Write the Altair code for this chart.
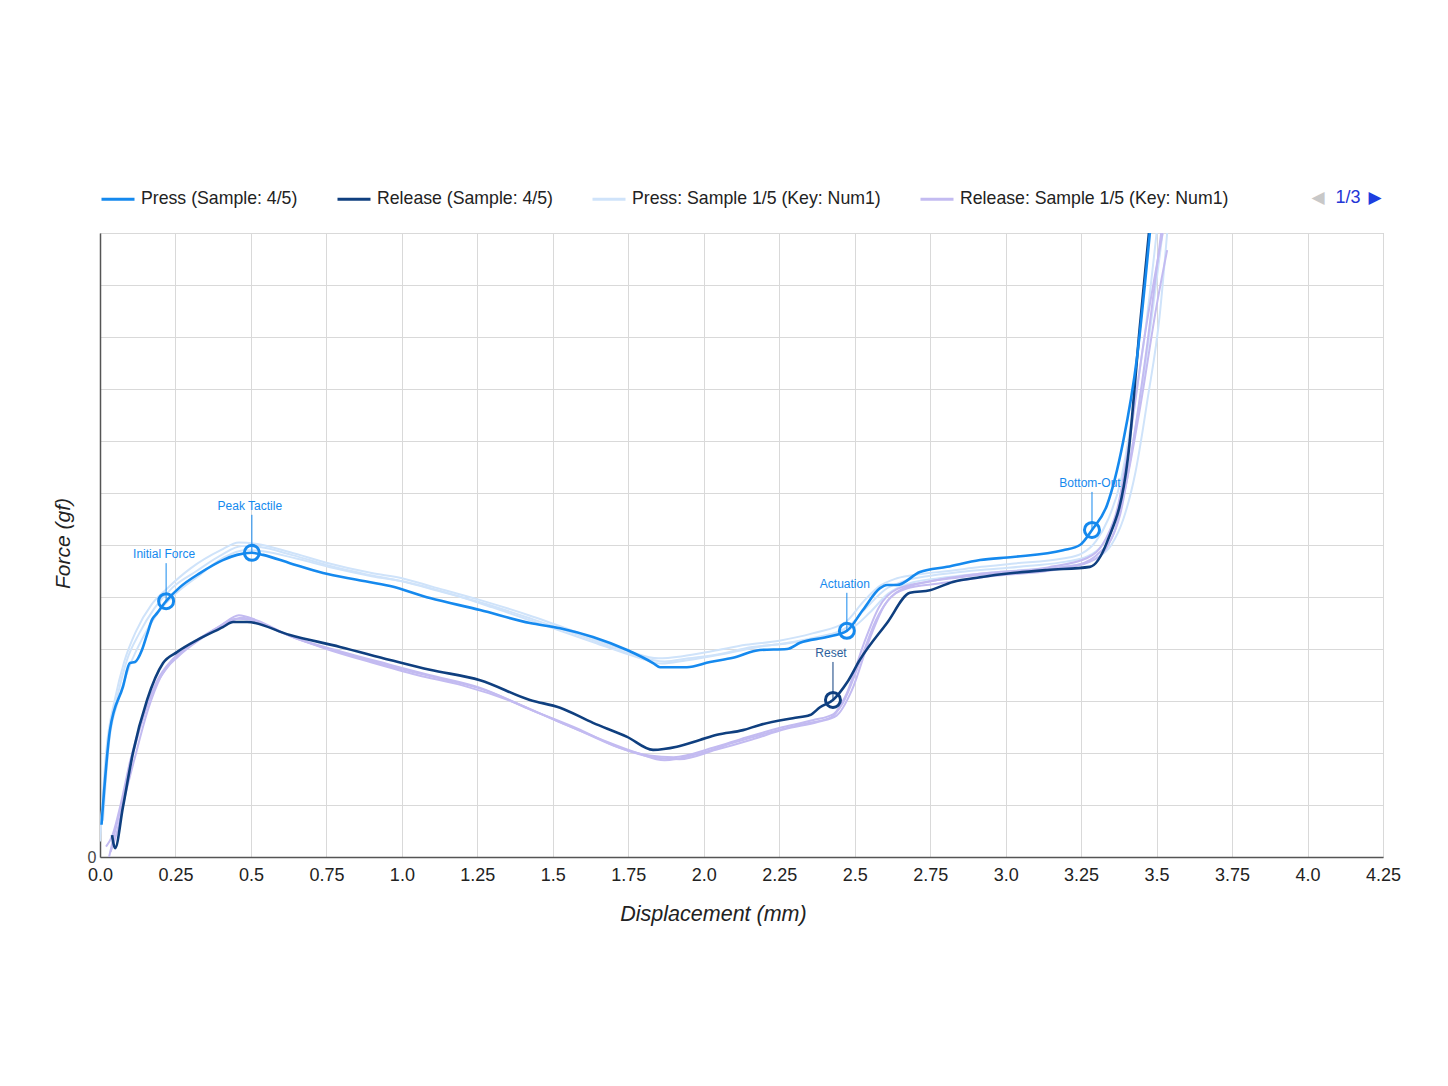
import altair as alt
import pandas as pd

# ---------------- data ----------------
PRESS_X = [0.005, 0.033, 0.076, 0.099, 0.116, 0.139, 0.156, 0.172, 0.189, 0.219, 0.265, 0.331, 0.407, 0.454,
           0.503, 0.540, 0.629, 0.739, 0.851, 0.961, 1.093, 1.259, 1.424, 1.524, 1.633, 1.746, 1.832, 1.855,
           1.944, 2.021, 2.097, 2.186, 2.276, 2.319, 2.408, 2.474, 2.527, 2.584, 2.607, 2.640, 2.716, 2.806,
           2.915, 3.024, 3.190, 3.246, 3.286, 3.336, 3.389, 3.435, 3.478]
PRESS_Y = [6.2, 24.4, 32.7, 37.3, 37.5, 39.8, 42.8, 45.6, 46.9, 49.2, 51.9, 54.6, 57.1, 58.1,
           58.5, 58.1, 56.5, 54.6, 53.3, 52.1, 49.8, 47.5, 45.0, 44.0, 42.3, 39.8, 37.3, 36.5,
           36.5, 37.5, 38.3, 39.8, 40.0, 41.2, 42.3, 43.5, 47.5, 51.7, 52.3, 52.3, 54.8, 55.8,
           57.1, 57.7, 59.0, 60.0, 62.9, 67.7, 79.8, 96.0, 120.2]

RELEASE_X = [0.040, 0.050, 0.076, 0.109, 0.156, 0.209, 0.255, 0.321, 0.407, 0.441, 0.487, 0.629, 0.795,
             0.961, 1.093, 1.259, 1.424, 1.524, 1.633, 1.746, 1.832, 1.911, 1.987, 2.044, 2.130, 2.186,
             2.295, 2.352, 2.385, 2.428, 2.474, 2.517, 2.607, 2.683, 2.749, 2.825, 2.915, 3.024, 3.137,
             3.279, 3.336, 3.405, 3.445, 3.475]
RELEASE_Y = [4.2, 1.7, 9.6, 20.0, 30.2, 37.3, 39.4, 41.7, 44.2, 45.2, 45.2, 42.7, 40.4,
             37.9, 36.0, 34.0, 30.2, 28.7, 25.8, 23.1, 20.6, 21.2, 22.5, 23.5, 24.4, 25.4,
             26.7, 27.3, 28.8, 30.2, 33.5, 37.9, 45.0, 50.8, 51.3, 52.9, 53.8, 54.6, 55.2,
             55.8, 60.6, 76.7, 102.3, 120.2]

PS1_X = [0.0, 0.02, 0.05, 0.08, 0.12, 0.17, 0.22, 0.30, 0.40, 0.46, 0.52, 0.63, 0.75, 0.90, 1.00, 1.10,
         1.26, 1.42, 1.59, 1.75, 1.85, 1.93, 2.03, 2.14, 2.25, 2.36, 2.47, 2.53, 2.58, 2.64, 2.72, 2.81,
         2.92, 3.02, 3.19, 3.25, 3.30, 3.34, 3.38, 3.42, 3.46, 3.50]
PS1_Y = [3.0, 20.0, 30.5, 37.5, 43.5, 48.5, 51.5, 55.5, 59.0, 60.5, 60.2, 58.6, 56.6, 54.6, 53.6, 52.0,
         49.4, 46.5, 43.0, 39.6, 38.2, 38.6, 39.6, 40.8, 41.6, 43.0, 45.2, 49.2, 52.0, 53.6, 54.4, 55.0,
         55.8, 56.4, 57.4, 58.3, 60.8, 65.0, 72.0, 85.0, 100.0, 120.0]
PS2_X = [0.0, 0.03, 0.06, 0.09, 0.13, 0.18, 0.24, 0.32, 0.40, 0.47, 0.53, 0.64, 0.76, 0.88, 1.00, 1.12,
         1.27, 1.43, 1.60, 1.76, 1.87, 1.95, 2.05, 2.16, 2.27, 2.38, 2.48, 2.54, 2.60, 2.66, 2.74, 2.85,
         2.96, 3.08, 3.20, 3.27, 3.32, 3.36, 3.40, 3.44, 3.48, 3.52]
PS2_Y = [4.5, 23.0, 31.5, 38.0, 43.0, 47.8, 51.8, 55.0, 58.0, 59.8, 59.6, 58.0, 56.0, 54.4, 53.0, 51.2,
         48.8, 45.8, 42.4, 39.0, 37.6, 38.2, 39.0, 40.4, 41.0, 42.2, 44.4, 48.0, 51.4, 53.0, 54.0, 54.8,
         55.4, 56.0, 56.8, 57.8, 60.0, 64.5, 73.0, 86.0, 102.0, 120.0]
PS3_X = [0.01, 0.03, 0.06, 0.10, 0.14, 0.19, 0.25, 0.33, 0.41, 0.48, 0.54, 0.65, 0.77, 0.90, 1.02, 1.15,
         1.30, 1.45, 1.62, 1.78, 1.86, 1.94, 2.06, 2.18, 2.30, 2.40, 2.49, 2.55, 2.61, 2.68, 2.78, 2.90,
         3.02, 3.14, 3.24, 3.30, 3.35, 3.39, 3.43, 3.47, 3.51, 3.535]
PS3_Y = [7.0, 22.0, 30.0, 37.0, 42.0, 46.8, 50.6, 54.2, 57.6, 59.0, 58.8, 57.4, 55.6, 54.0, 52.8, 50.8,
         48.0, 45.0, 41.6, 38.4, 37.2, 37.8, 39.0, 40.4, 41.4, 42.6, 44.0, 47.0, 50.6, 52.6, 53.6, 54.4,
         55.0, 55.6, 56.2, 57.4, 60.0, 65.0, 74.0, 88.0, 104.0, 120.0]

RS1_X = [0.03, 0.05, 0.08, 0.11, 0.15, 0.19, 0.24, 0.32, 0.40, 0.46, 0.52, 0.63, 0.80, 0.96, 1.09, 1.26,
         1.42, 1.59, 1.70, 1.82, 1.90, 2.03, 2.14, 2.25, 2.36, 2.43, 2.47, 2.53, 2.58, 2.64, 2.75, 2.92,
         3.14, 3.27, 3.33, 3.37, 3.41, 3.46, 3.52]
RS1_Y = [0.0, 5.0, 12.0, 20.0, 28.0, 34.0, 38.0, 41.5, 44.5, 46.5, 45.5, 42.5, 39.5, 37.0, 35.0, 32.5,
         28.5, 24.5, 21.5, 19.5, 19.2, 21.0, 23.0, 24.8, 26.3, 27.5, 31.0, 41.0, 48.0, 51.5, 53.0, 54.5,
         55.7, 57.5, 61.0, 67.0, 80.0, 100.0, 120.0]
RS2_X = [0.02, 0.04, 0.07, 0.10, 0.14, 0.18, 0.23, 0.30, 0.38, 0.45, 0.50, 0.60, 0.75, 0.90, 1.05, 1.20,
         1.36, 1.52, 1.66, 1.78, 1.87, 1.98, 2.10, 2.22, 2.33, 2.42, 2.46, 2.52, 2.57, 2.62, 2.70, 2.85,
         3.05, 3.24, 3.31, 3.36, 3.40, 3.45, 3.50, 3.535]
RS2_Y = [2.0, 4.0, 10.5, 18.5, 26.5, 32.5, 37.0, 40.8, 43.8, 45.8, 45.6, 43.2, 40.0, 37.4, 35.0, 33.0,
         30.0, 26.0, 22.6, 20.0, 18.6, 19.8, 22.0, 24.0, 25.6, 26.8, 29.5, 38.0, 45.5, 50.0, 52.4, 53.8,
         55.0, 56.2, 58.5, 62.5, 72.0, 88.0, 106.0, 116.7]
RS3_X = [0.035, 0.055, 0.08, 0.115, 0.16, 0.20, 0.26, 0.33, 0.41, 0.47, 0.53, 0.65, 0.82, 0.98, 1.12, 1.28,
         1.44, 1.60, 1.72, 1.83, 1.92, 2.04, 2.16, 2.27, 2.38, 2.44, 2.49, 2.55, 2.60, 2.67, 2.78, 2.95,
         3.16, 3.28, 3.34, 3.38, 3.42, 3.47, 3.515]
RS3_Y = [1.0, 4.5, 11.0, 19.0, 28.5, 34.5, 38.6, 41.8, 44.6, 46.0, 45.0, 42.0, 39.0, 36.4, 34.4, 32.0,
         28.0, 24.0, 21.0, 19.2, 18.8, 20.6, 22.6, 24.6, 26.0, 27.2, 32.0, 42.0, 48.5, 51.6, 52.6, 54.0,
         55.2, 56.8, 60.0, 66.0, 79.0, 99.0, 120.0]

LEGEND_NAMES = ["Press (Sample: 4/5)", "Release (Sample: 4/5)",
                "Press: Sample 1/5 (Key: Num1)", "Release: Sample 1/5 (Key: Num1)"]

ANN_LABELS = ["Initial Force", "Peak Tactile", "Actuation", "Reset", "Bottom-Out"]
ANN_X = [0.219, 0.503, 2.474, 2.428, 3.286]
ANN_Y = [49.2, 58.5, 43.5, 30.2, 62.9]
ANN_KIND = ["press", "press", "press", "release", "press"]

X_TICKS = [i * 0.25 for i in range(18)]
Y_TICKS = [i * 10 for i in range(13)]

# ---------------- styling ----------------
C_PRESS = "#1589ee"
C_RELEASE = "#0f3f7f"
C_PRESS_S = "#cfe3fa"
C_RELEASE_S = "#c3bbf1"
FONT = "Liberation Sans"

def series(name, group, xs, ys):
    return pd.DataFrame({"series": name, "group": group, "x": xs, "y": ys, "i": list(range(len(xs)))})

samples = pd.concat([
    series("ps1", LEGEND_NAMES[2], PS1_X, PS1_Y),
    series("ps2", LEGEND_NAMES[2], PS2_X, PS2_Y),
    series("ps3", LEGEND_NAMES[2], PS3_X, PS3_Y),
    series("rs1", LEGEND_NAMES[3], RS1_X, RS1_Y),
    series("rs2", LEGEND_NAMES[3], RS2_X, RS2_Y),
    series("rs3", LEGEND_NAMES[3], RS3_X, RS3_Y),
])
mains = pd.concat([
    series("release", LEGEND_NAMES[1], RELEASE_X, RELEASE_Y),
    series("press", LEGEND_NAMES[0], PRESS_X, PRESS_Y),
])
ann = pd.DataFrame({"label": ANN_LABELS, "x": ANN_X, "y": ANN_Y, "kind": ANN_KIND})

x_enc = alt.X("x:Q", scale=alt.Scale(domain=[0, 4.25], nice=False, zero=False),
              axis=alt.Axis(values=X_TICKS, title="Displacement (mm)", labelFlush=False,
                            labelExpr="(round(datum.value*4) % 2 == 0) ? format(datum.value, '.1f') : format(datum.value, '.2f')",
                            titleX=613, titleY=57, titleBaseline="middle", titleAlign="center",
                            titleFontSize=21.5))
y_enc = alt.Y("y:Q", scale=alt.Scale(domain=[0, 120], nice=False),
              axis=alt.Axis(values=Y_TICKS, title="Force (gf)", labelFlush=False,
                            labelExpr="datum.value == 0 ? '0' : ''",
                            titleX=-37, titleY=310, titleAngle=270, titleBaseline="middle", titleAlign="center",
                            titleFontSize=21))
color_enc = alt.Color("group:N",
                      scale=alt.Scale(domain=LEGEND_NAMES, range=[C_PRESS, C_RELEASE, C_PRESS_S, C_RELEASE_S]),
                      legend=alt.Legend(title=None, orient="none", legendX=0, legendY=-52, direction="horizontal",
                                        symbolType="stroke", symbolStrokeWidth=3, symbolSize=1089,
                                        labelFont=FONT, labelFontSize=17.7, labelColor="#222", labelLimit=0,
                                        labelOffset=5, columnPadding=33, padding=0))

sample_lines = alt.Chart(samples).mark_line(strokeWidth=2, clip=True, strokeJoin="round",
                                            interpolate="monotone").encode(
    x=x_enc, y=y_enc, color=color_enc, detail="series:N", order="i:Q")
main_lines = alt.Chart(mains).mark_line(strokeWidth=2.6, clip=True, strokeJoin="round",
                                        interpolate="monotone").encode(
    x=x_enc, y=y_enc, color=color_enc, detail="series:N", order="i:Q")

ann_color = alt.condition(alt.datum.kind == "release", alt.value(C_RELEASE), alt.value(C_PRESS))
ann_text_color = alt.condition(alt.datum.kind == "release", alt.value("#2c5f9c"), alt.value(C_PRESS))

ann_rules = alt.Chart(ann).mark_rule(strokeWidth=1, y2Offset=-38).encode(
    x="x:Q", y="y:Q", y2="y:Q", color=ann_color)
ann_points = alt.Chart(ann).mark_point(shape="circle", size=225, strokeWidth=3, filled=False, opacity=1).encode(
    x="x:Q", y="y:Q", color=ann_color)
ann_text = alt.Chart(ann).mark_text(font=FONT, fontSize=12, dy=-47, dx=-2, baseline="middle", align="center").encode(
    x="x:Q", y="y:Q", text="label:N", color=ann_text_color)

one = alt.Data(values=[{"k": 1}])
pager_l = alt.Chart(one).mark_text(font="DejaVu Sans", fontSize=17, color="#c8c8c8", align="center",
                                   baseline="middle").encode(x=alt.value(1218), y=alt.value(-35), text=alt.value("◀"))
pager_t = alt.Chart(one).mark_text(font=FONT, fontSize=18, color="#2436d6", align="center",
                                   baseline="middle").encode(x=alt.value(1248), y=alt.value(-35), text=alt.value("1/3"))
pager_r = alt.Chart(one).mark_text(font="DejaVu Sans", fontSize=17, color="#1d3ee0", align="center",
                                   baseline="middle").encode(x=alt.value(1275), y=alt.value(-35), text=alt.value("▶"))

chart = alt.layer(sample_lines, main_lines, ann_rules, ann_points, ann_text, pager_l, pager_t, pager_r).properties(
    width=1283, height=624,
    autosize=alt.AutoSizeParams(type="none"),
    padding={"left": 92, "top": 225, "right": 40, "bottom": 150},
    background="white",
).configure_view(stroke="#bdbdbd", strokeWidth=1).configure_axis(
    grid=True, gridColor="#d9d9d9", gridWidth=1, ticks=False,
    domainColor="#555", domainWidth=1.5,
    labelFont=FONT, labelFontSize=18, labelColor="#222", labelPadding=9,
    titleFont=FONT, titleFontSize=20, titleFontStyle="italic", titleFontWeight="normal", titleColor="#222",
).configure_axisY(labelPadding=4, labelColor="#444", labelFontSize=16)

chart.save("out.html", embed_options={"renderer": "svg", "actions": False})
